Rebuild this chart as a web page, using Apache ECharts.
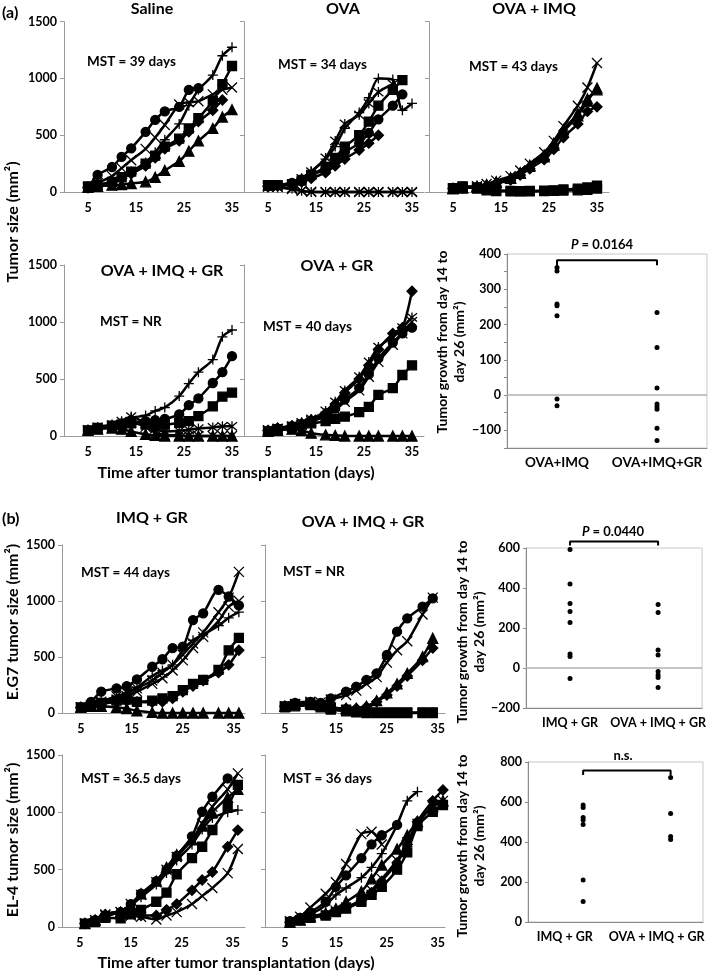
<!DOCTYPE html>
<html><head><meta charset="utf-8">
<script src="https://cdn.jsdelivr.net/npm/echarts@6/dist/echarts.min.js"></script>
<style>html,body{margin:0;padding:0;background:#fff}#c{width:709px;height:973px}</style>
</head><body><div id="c"></div>
<script>
const FONT = 'Lato, "Liberation Sans", sans-serif';

// ---------- measurement days ----------
const daysA  = [5,7,10,12,14,17,19,21,24,26,28,31,33,35];
const daysB1 = [5,7,9,12,14,16,19,21,23,25,27,29,32,34,36];
const daysB2 = [5,7,10,12,14,17,19,21,23,25,27,29,32,34];
const daysC  = [6,8,10,13,15,17,20,22,24,27,29,31,34,36];
const xTickValues = [5,15,25,35];

// ---------- (a) Saline ----------
const salCircle   = [35,150,220,310,385,530,635,710,750,900,915];
const salPlus     = [40,60,90,130,180,260,350,460,600,760,900,1030,1200,1275];
const salSquare   = [50,60,90,130,180,250,320,400,470,560,650,800,950,1110];
const salCross    = [40,80,140,210,280,380,480,590,770,790,800,860,900,920];
const salDiamond  = [40,55,80,120,160,230,300,380,450,530,620,720,810];
const salTriangle = [40,50,60,65,75,90,130,190,270,360,450,560,660,725];
// ---------- (a) OVA ----------
const ovaCrossZero = [50,45,25,10,2,0,0,0,0,0,0,0,0,0];
const ovaStarZero  = [50,40,30,10,0,0,0,0,0,0,0,0,0,0];
const ovaPlus      = [50,60,80,120,180,290,400,560,700,830,1000,990,720,780];
const ovaSquare    = [60,60,70,100,150,220,300,400,500,620,760,900,985];
const ovaCircle    = [50,60,80,110,150,200,270,350,430,520,640,760,860];
const ovaDiamond   = [50,55,70,90,120,170,230,290,370,430,500];
const ovaTriangle  = [40,50,70,120,180,300,450,600,680,780,880,950];
// ---------- (a) OVA + IMQ ----------
const imqCross    = [30,40,50,70,100,140,190,250,350,450,580,760,920,1136];
const imqTriangle = [30,35,45,60,85,120,165,225,310,410,530,670,800,915];
const imqCircle   = [30,40,50,65,90,125,170,235,325,430,550,690,820,900];
const imqDiamond  = [30,35,45,55,75,105,150,205,285,375,480,600,710,750];
const imqSquare   = [30,50,40,25,15,10,8,10,12,15,22,30,40,55];
const imqSquare2  = [35,45,30,15,8,5,5,5,8,10,12,15,20,30];
// ---------- (a) OVA + IMQ + GR ----------
const grPlus     = [50,70,90,120,160,180,220,250,350,460,560,670,870,930];
const grCircle   = [50,70,90,110,120,130,140,150,190,270,330,465,560,700];
const grSquare   = [50,70,90,100,110,100,100,100,115,130,175,260,345,380];
const grStar     = [50,80,100,130,170,110,60,40,45,55,65,75,85,85];
const grCross    = [50,60,80,100,120,80,30,10,5,0,0,0,0,0];
const grTriangle = [50,60,70,60,40,15,5,0,0,0,0,0,0,0];
// ---------- (a) OVA + GR ----------
const ogDiamond  = [50,70,90,110,140,200,280,380,500,620,760,900,950,1270];
const ogStar     = [50,70,90,120,150,220,300,400,520,650,780,870,950,1040];
const ogCircle   = [40,60,80,100,130,180,240,320,420,540,680,820,900,950];
const ogCross    = [50,60,80,100,130,170,230,300,400,520,650,800,900,1000];
const ogSquare   = [40,60,80,100,110,130,150,170,210,255,360,420,535,620];
const ogTriangle = [40,50,60,50,25,10,5,0,0,0,0,0,0,0];
// ---------- (b) E.G7 IMQ + GR ----------
const e1Circle   = [50,100,190,220,240,300,413,480,580,592,830,890,1100,1040,960];
const e1Cross    = [50,70,100,150,180,220,290,360,430,520,620,720,900,1030,1260];
const e1Plus     = [50,80,110,140,180,230,330,380,430,560,650,700,780,850,900];
const e1Cross2   = [50,60,90,120,150,190,260,310,380,470,580,680,820,950,1000];
const e1Square   = [50,70,90,110,120,100,110,130,150,205,260,295,385,560,670];
const e1Diamond  = [50,60,80,100,110,100,95,100,130,190,240,290,360,430,560];
const e1Triangle = [50,60,60,50,40,20,5,0,0,0,0,0,0,0,0];
// ---------- (b) E.G7 OVA + IMQ + GR ----------
const e2Circle   = [60,90,100,90,130,190,235,295,354,518,726,845,949,1024];
const e2Cross    = [60,80,100,95,120,160,200,260,320,450,560,640,880,1030];
const e2Triangle = [60,80,90,70,50,40,40,60,110,180,260,354,503,667];
const e2Diamond  = [60,80,90,70,50,40,40,55,100,160,240,330,470,580];
const e2Square   = [60,80,90,70,50,30,15,10,5,5,5,5,5,5];
const e2Square2  = [50,60,70,50,30,15,5,0,0,0,0,0,0,0];
// ---------- (b) EL-4 IMQ + GR ----------
const l1Square   = [30,45,80,75,110,150,220,300,460,600,700,846,1049,1240];
const l1Circle   = [30,60,100,130,200,290,400,500,620,790,1005,1136,1296];
const l1Cross    = [30,60,100,130,200,280,390,500,610,760,900,1050,1200,1340];
const l1Plus     = [30,60,100,130,190,260,370,470,580,720,850,950,1000,1020];
const l1Diamond  = [30,60,110,130,120,100,100,150,200,320,410,480,700,845];
const l1Cross2   = [30,60,110,130,100,90,65,100,130,200,270,340,470,680];
const l1Triangle = [30,60,100,130,190,290,400,520,630,760,880,1000,1130,1200];
// ---------- (b) EL-4 OVA + IMQ + GR ----------
const l2Cross    = [50,90,170,290,390,550,810,830,720];
const l2Circle   = [50,80,130,220,350,450,600,720,800,890];
const l2Plus     = [50,80,110,190,280,340,430,520,640,890,1100,1180];
const l2Diamond  = [40,60,90,110,140,170,230,300,400,560,720,920,1100,1195];
const l2Square   = [40,60,80,100,130,160,220,280,350,500,650,880,1005,1064];
const l2Triangle = [40,60,90,120,160,220,310,420,540,680,800,920,1050,1100];
const l2Cross2   = [40,60,90,110,140,170,240,320,420,580,740,900,1050,1100];

// ---------- growth day 14 -> 26 scatter ----------
const gA_cats = ['OVA+IMQ', 'OVA+IMQ+GR'];
const gA_imq   = [362, 352, 258, 253, 225, -11, -30];
const gA_imqgr = [234, 135, 20, -25, -33, -40, -94, -129];
const gB1_cats = ['IMQ + GR', 'OVA + IMQ + GR'];
const gB1_imqgr    = [593, 420, 323, 282, 228, 70, 57, -52];
const gB1_ovaimqgr = [318, 278, 90, 65, -18, -35, -48, -97];
const gB2_cats = ['IMQ + GR', 'OVA + IMQ + GR'];
const gB2_imqgr    = [585, 572, 523, 510, 488, 210, 102];
const gB2_ovaimqgr = [722, 543, 427, 413];

// ---------- chart construction ----------
const SYM = {
  circle:   {symbol:'circle', size:9},
  square:   {symbol:'rect', size:9},
  triangle: {symbol:'triangle', size:10},
  diamond:  {symbol:'diamond', size:10},
  cross:    {symbol:'path://M0,0L10,10M10,0L0,10', size:10},
  plus:     {symbol:'path://M5,0L5,10M0,5L10,5', size:10},
  star:     {symbol:'path://M0,0L10,10M10,0L0,10M5,-1L5,11', size:10}
};

const linePanels = [
  {g:{left:64, top:21.7, width:180, height:170.3}, x:[0,37.5], labels:true, days:daysA,
   lines:[[salTriangle,'triangle'],[salDiamond,'diamond'],[salCross,'cross'],[salSquare,'square'],[salCircle,'circle'],[salPlus,'plus']]},
  {g:{left:244, top:21.7, width:180, height:170.3}, x:[0,37.5], labels:false, days:daysA,
   lines:[[ovaCrossZero,'cross'],[ovaStarZero,'star'],[ovaDiamond,'diamond'],[ovaCircle,'circle'],[ovaTriangle,'star'],[ovaSquare,'square'],[ovaPlus,'plus']]},
  {g:{left:429, top:21.7, width:180, height:170.3}, x:[0,37.5], labels:false, days:daysA,
   lines:[[imqSquare2,'square'],[imqSquare,'square'],[imqDiamond,'diamond'],[imqCircle,'triangle'],[imqTriangle,'triangle'],[imqCross,'cross']]},
  {g:{left:64, top:265, width:180, height:171}, x:[0,37.5], labels:true, days:daysA,
   lines:[[grTriangle,'triangle'],[grCross,'cross'],[grStar,'star'],[grSquare,'square'],[grCircle,'circle'],[grPlus,'plus']]},
  {g:{left:244, top:265, width:180, height:171}, x:[0,37.5], labels:false, days:daysA,
   lines:[[ogTriangle,'triangle'],[ogSquare,'square'],[ogCross,'cross'],[ogCircle,'circle'],[ogStar,'star'],[ogDiamond,'diamond']]},
  {g:{left:62, top:545, width:183, height:168}, x:[1.3,37.2], labels:true, days:daysB1,
   lines:[[e1Triangle,'triangle'],[e1Diamond,'diamond'],[e1Square,'square'],[e1Cross2,'cross'],[e1Plus,'plus'],[e1Cross,'cross'],[e1Circle,'circle']]},
  {g:{left:265, top:545, width:180, height:168}, x:[1.1,36.4], labels:false, days:daysB2,
   lines:[[e2Square2,'square'],[e2Square,'square'],[e2Diamond,'diamond'],[e2Triangle,'triangle'],[e2Cross,'cross'],[e2Circle,'circle']]},
  {g:{left:62, top:755, width:183, height:172}, x:[1.5,37.4], labels:true, days:daysC,
   lines:[[l1Cross2,'cross'],[l1Diamond,'diamond'],[l1Plus,'plus'],[l1Triangle,'triangle'],[l1Square,'square'],[l1Cross,'cross'],[l1Circle,'circle']]},
  {g:{left:265, top:755, width:180, height:172}, x:[1.1,36.4], labels:false, days:daysC,
   lines:[[l2Square,'square'],[l2Cross2,'cross'],[l2Triangle,'triangle'],[l2Diamond,'diamond'],[l2Circle,'circle'],[l2Plus,'plus'],[l2Cross,'cross']]}
];

const scatterPanels = [
  {g:{left:507, top:254, width:200, height:194}, x:[0.5,2.5], labelAt:[1,2], cats:gA_cats, y:[-150,400], step:50, labelStep:100, zero:true,
   groups:[gA_imq, gA_imqgr], bracket:[368,382], catFont:13.5},
  {g:{left:526, top:548, width:179, height:160}, x:[0.5,2.5], labelAt:[1,2], cats:gB1_cats, y:[-200,600], step:200, labelStep:200, zero:true,
   groups:[gB1_imqgr, gB1_ovaimqgr], bracket:[612,632], catFont:12.5},
  {g:{left:528, top:762, width:175, height:160}, x:[0.37,2.37], labelAt:[0.79,1.84], cats:gB2_cats, y:[0,800], step:200, labelStep:200, zero:false,
   groups:[gB2_imqgr, gB2_ovaimqgr], bracket:[735,757], catFont:12.5}
];

const grid = [], xAxis = [], yAxis = [], series = [];
const labelStyle = {fontFamily:FONT, fontWeight:'bold', fontSize:12.5, color:'#000'};
const minus = v => (v < 0 ? '\u2212' + Math.abs(v) : String(v));

linePanels.forEach((p, gi) => {
  grid.push(Object.assign({show:false}, p.g));
  xAxis.push({type:'value', gridIndex:gi, min:p.x[0], max:p.x[1],
    axisLine:{show:true, onZero:false, lineStyle:{color:'#9a9a9a', width:1}},
    axisTick:{show:false}, splitLine:{show:false},
    axisLabel:Object.assign({customValues:xTickValues, margin:9, formatter: v => String(v)}, labelStyle)});
  yAxis.push({type:'value', gridIndex:gi, min:0, max:1500, interval:500,
    axisLine:{show:true, lineStyle:{color:'#9a9a9a', width:1}},
    axisTick:{show:true, length:4, lineStyle:{color:'#9a9a9a'}}, splitLine:{show:false},
    axisLabel:Object.assign({show:p.labels, margin:7, formatter: v => String(v)}, labelStyle)});
  p.lines.forEach(([vals, key]) => {
    const s = SYM[key];
    series.push({type:'line', xAxisIndex:gi, yAxisIndex:gi, clip:false, silent:true, animation:false,
      data: vals.map((v, i) => [p.days[i], v]),
      symbol:s.symbol, symbolSize:s.size, showSymbol:true, showAllSymbol:true, smooth:0.25,
      lineStyle:{color:'#000', width:2.5},
      itemStyle:{color:'#000', borderColor:'#000', borderWidth:1.3}});
  });
});

scatterPanels.forEach((p, k) => {
  const gi = linePanels.length + k;
  grid.push(Object.assign({show:true, borderColor:'#c8c8c8', borderWidth:1}, p.g));
  xAxis.push({type:'value', gridIndex:gi, min:p.x[0], max:p.x[1],
    axisLine:{show:true, onZero:false, lineStyle:{color:'#8a8a8a'}}, axisTick:{show:false}, splitLine:{show:false},
    axisLabel:Object.assign({}, labelStyle, {customValues:p.labelAt, fontSize:p.catFont, margin:8,
      formatter: v => (v < 1.3 ? p.cats[0] : p.cats[1])})});
  yAxis.push({type:'value', gridIndex:gi, min:p.y[0], max:p.y[1], interval:p.step,
    axisLine:{show:true, lineStyle:{color:'#8a8a8a'}},
    axisTick:{show:true, length:3, lineStyle:{color:'#8a8a8a'}}, splitLine:{show:false},
    axisLabel:Object.assign({}, labelStyle, {margin:6, formatter: v => (v % p.labelStep === 0 ? minus(v) : '')})});
  p.groups.forEach((vals, c) => {
    const s = {type:'scatter', xAxisIndex:gi, yAxisIndex:gi, silent:true, animation:false,
      data: vals.map(v => [c + 1, v]), symbol:'circle', symbolSize:5, itemStyle:{color:'#000', opacity:1}};
    if (c === 0 && p.zero) {
      s.markLine = {silent:true, symbol:'none', label:{show:false}, animation:false,
        lineStyle:{color:'#b0b0b0', width:1.5, type:'solid'}, data:[{yAxis:0}]};
    }
    series.push(s);
  });
  const [lo, hi] = p.bracket;
  series.push({type:'line', xAxisIndex:gi, yAxisIndex:gi, silent:true, animation:false, clip:false,
    data:[[1, lo],[1, hi],[2, hi],[2, lo]], symbol:'none', lineStyle:{color:'#000', width:2}});
});

function txt(x, y, text, size, opt) {
  opt = opt || {};
  const el = {type:'text', x:x, y:y, silent:true,
    style:{text:text, fontFamily:FONT, fontWeight:opt.weight || 'bold', fontSize:size, fill:'#000',
      textAlign:opt.align || 'center', textVerticalAlign:'middle', lineHeight:opt.lh}};
  if (opt.rot) el.rotation = opt.rot;
  if (opt.rich) el.style.rich = opt.rich;
  return el;
}
const R = Math.PI / 2;
const italicP = {i:{fontFamily:FONT, fontWeight:'bold', fontStyle:'italic', fontSize:13}};
const graphic = [
  txt(2, 13, '(a)', 16, {align:'left'}),
  txt(2, 519, '(b)', 16, {align:'left'}),
  txt(152, 9, 'Saline', 16), txt(343, 9, 'OVA', 16), txt(534, 9, 'OVA + IMQ', 16),
  txt(162, 271, 'OVA + IMQ + GR', 16), txt(337, 266, 'OVA + GR', 16),
  txt(152, 518, 'IMQ + GR', 16), txt(363, 522, 'OVA + IMQ + GR', 16),
  txt(87, 62, 'MST = 39 days', 13.5, {align:'left'}),
  txt(278, 65, 'MST = 34 days', 13.5, {align:'left'}),
  txt(469, 67, 'MST = 43 days', 13.5, {align:'left'}),
  txt(100, 322, 'MST = NR', 13.5, {align:'left'}),
  txt(263, 327, 'MST = 40 days', 13.5, {align:'left'}),
  txt(81, 573, 'MST = 44 days', 13.5, {align:'left'}),
  txt(283, 572, 'MST = NR', 13.5, {align:'left'}),
  txt(81, 779, 'MST = 36.5 days', 13.5, {align:'left'}),
  txt(283, 779, 'MST = 36 days', 13.5, {align:'left'}),
  txt(236, 473, 'Time after tumor transplantation (days)', 16),
  txt(236, 963, 'Time after tumor transplantation (days)', 16),
  txt(13, 222, 'Tumor size (mm\u00b2)', 16, {rot:R}),
  txt(13, 622, 'E.G7 tumor size (mm\u00b2)', 16, {rot:R}),
  txt(13, 840, 'EL-4 tumor size (mm\u00b2)', 16, {rot:R}),
  txt(451, 342, 'Tumor growth from day 14 to\nday 26 (mm\u00b2)', 14, {rot:R, lh:17}),
  txt(471, 632, 'Tumor growth from day 14 to\nday 26 (mm\u00b2)', 14, {rot:R, lh:17}),
  txt(471, 846, 'Tumor growth from day 14 to\nday 26 (mm\u00b2)', 14, {rot:R, lh:17}),
  txt(602, 245, '{i|P} = 0.0164', 13, {rich:italicP}),
  txt(613, 532, '{i|P} = 0.0440', 13, {rich:italicP}),
  txt(623, 756, 'n.s.', 13)
];

const chart = echarts.init(document.getElementById('c'), null, {renderer:'canvas'});
chart.setOption({animation:false, backgroundColor:'#fff', grid, xAxis, yAxis, series, graphic});
</script></body></html>
